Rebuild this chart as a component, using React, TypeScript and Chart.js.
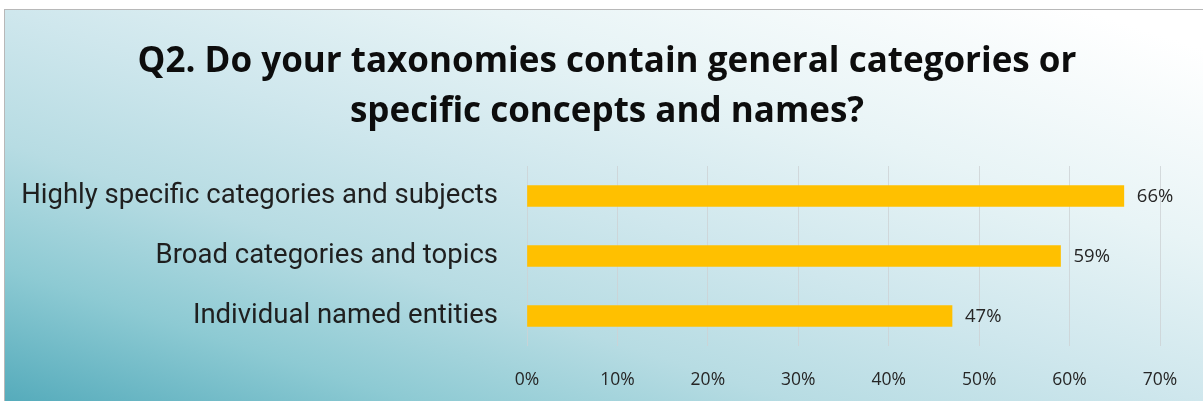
import React, { useEffect, useRef } from "react";
import { Chart, registerables } from "chart.js";

Chart.register(...registerables);

const titleLines = [
  "Q2. Do your taxonomies contain general categories or",
  "specific concepts and names?",
];
const categories = [
  "Highly specific categories and subjects",
  "Broad categories and topics",
  "Individual named entities",
];
const values = [66, 59, 47];
const xMin = 0;
const xMax = 70;
const xStep = 10;

const TITLE_SIZE = 35;
const TITLE_LINE = 49.7;
const TITLE_TOP = 37;
const TITLE_CENTER_X = 607;

const titlePlugin = {
  id: "customTitle",
  afterDraw(chart: any) {
    const ctx = chart.ctx;
    ctx.save();
    ctx.font = `bold ${TITLE_SIZE}px 'Open Sans'`;
    ctx.fillStyle = "#0d0d0d";
    ctx.textAlign = "center";
    ctx.textBaseline = "middle";
    titleLines.forEach((line, i) => {
      ctx.fillText(line, TITLE_CENTER_X, TITLE_TOP + TITLE_LINE * (i + 0.5));
    });
    ctx.restore();
  },
};

const dataLabelPlugin = {
  id: "dataLabels",
  afterDatasetsDraw(chart: any) {
    const ctx = chart.ctx;
    const meta = chart.getDatasetMeta(0);
    ctx.save();
    ctx.font = "18.5px 'Open Sans'";
    ctx.fillStyle = "#262626";
    ctx.textAlign = "left";
    ctx.textBaseline = "middle";
    meta.data.forEach((bar: any, i: number) => {
      ctx.fillText(values[i] + "%", bar.x + 13, bar.y + 1);
    });
    ctx.restore();
  },
};

export default function App() {
  const canvasRef = useRef<HTMLCanvasElement | null>(null);

  useEffect(() => {
    if (!canvasRef.current) return;
    const chart = new Chart(canvasRef.current, {
      type: "bar",
      data: {
        labels: categories,
        datasets: [
          {
            data: values,
            backgroundColor: "#FFC000",
            borderWidth: 0,
            barThickness: 21,
          },
        ],
      },
      options: {
        indexAxis: "y",
        responsive: false,
        animation: false,
        devicePixelRatio: 1,
        layout: { padding: { left: 0, right: 43, top: 166, bottom: 0 } },
        plugins: {
          legend: { display: false },
          tooltip: { enabled: false },
          title: { display: false },
        },
        scales: {
          x: {
            min: xMin,
            max: xMax,
            ticks: {
              stepSize: xStep,
              callback: (v: any) => v + "%",
              color: "#262626",
              font: { family: "'Open Sans'", size: 17.5 },
              padding: 24,
            },
            grid: { color: "rgba(205,210,212,0.8)", drawTicks: false, lineWidth: 1 },
            border: { display: false },
            afterFit: (s: any) => {
              s.height = 55;
            },
          },
          y: {
            ticks: {
              color: "#1f1f1f",
              font: { family: "Roboto", size: 27.5 },
              padding: 21,
            },
            grid: { display: false },
            border: { display: false },
            afterFit: (s: any) => {
              s.width = 527;
            },
          },
        },
      },
      plugins: [dataLabelPlugin, titlePlugin],
    });
    return () => chart.destroy();
  }, []);

  return (
    <div
      style={{
        position: "fixed",
        left: 0,
        top: 0,
        width: 1203,
        height: 401,
        background: "#ffffff",
        overflow: "hidden",
      }}
    >
      <div
        style={{
          position: "absolute",
          left: 4,
          top: 9,
          width: 1199,
          height: 392,
          borderTop: "1.5px solid #b8b8b8",
          borderLeft: "1.5px solid #b8b8b8",
          background:
            "linear-gradient(to top right, #55abbb 0%, #8dcad3 17%, #b7dce3 33%, #cfe7ed 50%, #e8f4f6 70%, #ffffff 95%)",
        }}
      />
      <canvas
        ref={canvasRef}
        width={1203}
        height={401}
        style={{ position: "absolute", left: 0, top: 0 }}
      />
    </div>
  );
}
